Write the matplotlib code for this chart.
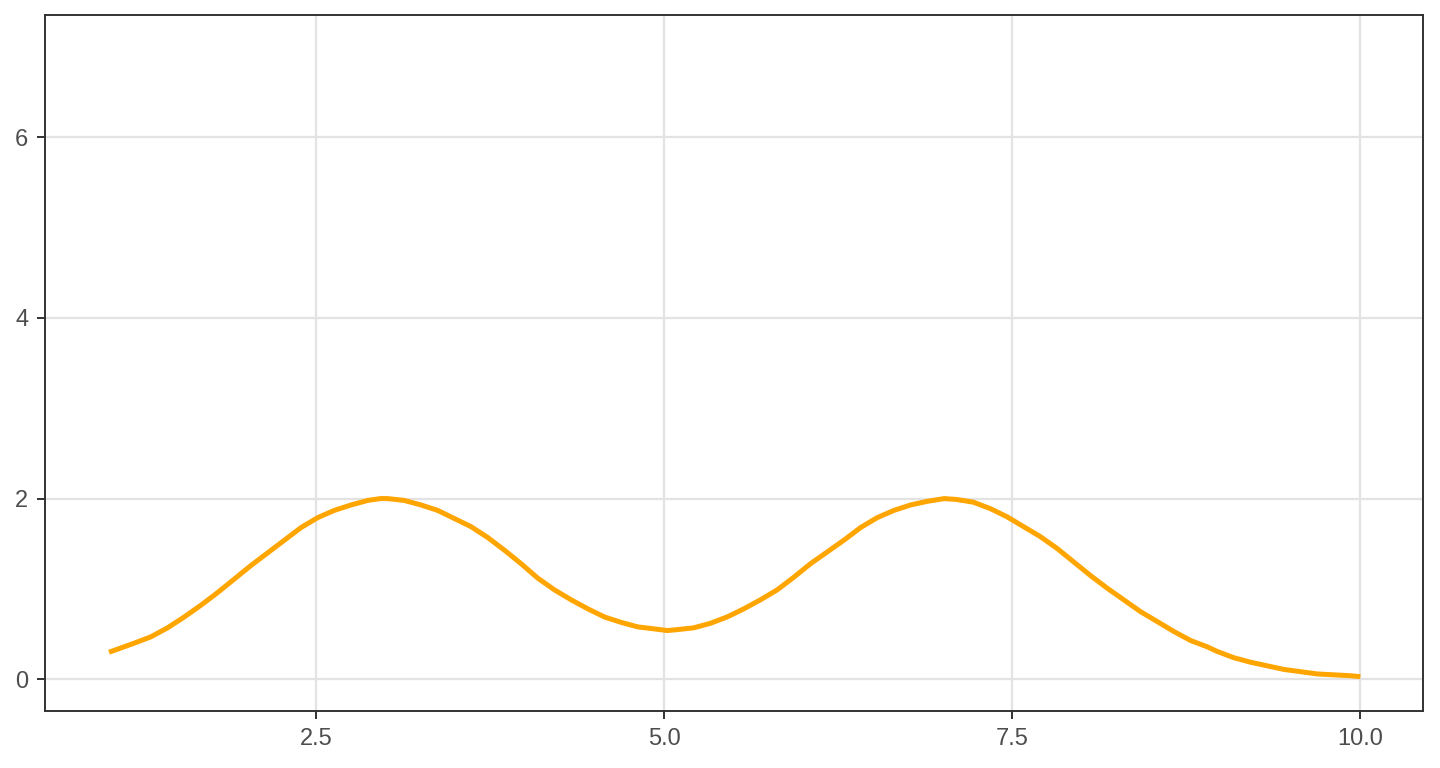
import matplotlib
matplotlib.use("Agg")
import matplotlib.pyplot as plt

x_vals = [1.01, 1.19, 1.31, 1.43, 1.55, 1.67, 1.79, 1.91, 2.03, 2.15, 2.27, 2.39,
          2.51, 2.63, 2.75, 2.87, 2.96, 3.01, 3.13, 3.25, 3.37, 3.49, 3.61, 3.73,
          3.85, 3.97, 4.09, 4.21, 4.33, 4.45, 4.57, 4.69, 4.81, 4.92, 5.02, 5.09,
          5.21, 5.33, 5.45, 5.57, 5.69, 5.81, 5.93, 6.05, 6.17, 6.29, 6.41, 6.53,
          6.65, 6.77, 6.89, 7.01, 7.10, 7.22, 7.34, 7.46, 7.58, 7.70, 7.82, 7.94,
          8.06, 8.18, 8.30, 8.42, 8.54, 8.66, 8.78, 8.90, 8.97, 9.09, 9.21, 9.33,
          9.45, 9.57, 9.69, 9.81, 9.93, 10.00]
y_vals = [0.30, 0.40, 0.47, 0.57, 0.69, 0.82, 0.96, 1.11, 1.26, 1.40, 1.54, 1.68,
          1.79, 1.87, 1.93, 1.98, 2.00, 2.00, 1.98, 1.93, 1.87, 1.78, 1.69, 1.57,
          1.43, 1.28, 1.12, 0.99, 0.88, 0.78, 0.69, 0.63, 0.58, 0.56, 0.54, 0.55,
          0.57, 0.62, 0.69, 0.78, 0.88, 0.99, 1.13, 1.28, 1.41, 1.54, 1.68, 1.79,
          1.87, 1.93, 1.97, 2.00, 1.99, 1.96, 1.89, 1.80, 1.69, 1.58, 1.45, 1.30,
          1.15, 1.01, 0.88, 0.75, 0.64, 0.53, 0.43, 0.36, 0.31, 0.24, 0.19, 0.15,
          0.11, 0.085, 0.06, 0.05, 0.04, 0.03]
x_ticks = [2.5, 5.0, 7.5, 10.0]
x_tick_labels = ["2.5", "5.0", "7.5", "10.0"]
y_ticks = [0, 2, 4, 6]
y_tick_labels = ["0", "2", "4", "6"]

plt.rcParams['font.family'] = ['Liberation Sans', 'DejaVu Sans']

fig = plt.figure(figsize=(14.4, 7.68), dpi=100)
ax = fig.add_axes([45/1440, 1 - 711/768, (1423 - 45)/1440, (711 - 15)/768])

ax.plot(x_vals, y_vals, color="#FFA500", linewidth=3.6, solid_capstyle="butt",
        solid_joinstyle="round", zorder=3)

ax.set_xlim(0.55, 10.45)
ax.set_ylim(-0.35, 7.35)
ax.set_xticks(x_ticks)
ax.set_xticklabels(x_tick_labels)
ax.set_yticks(y_ticks)
ax.set_yticklabels(y_tick_labels)

ax.grid(True, color="#E3E3E3", linewidth=1.6, zorder=0)
ax.set_axisbelow(True)
for s in ax.spines.values():
    s.set_color("#333333")
    s.set_linewidth(1.4)
ax.tick_params(axis="both", which="major", length=6, width=1.4, color="#333333",
               labelcolor="#4D4D4D", labelsize=17, pad=6)

fig.savefig("out.png", dpi=100, facecolor="white")
